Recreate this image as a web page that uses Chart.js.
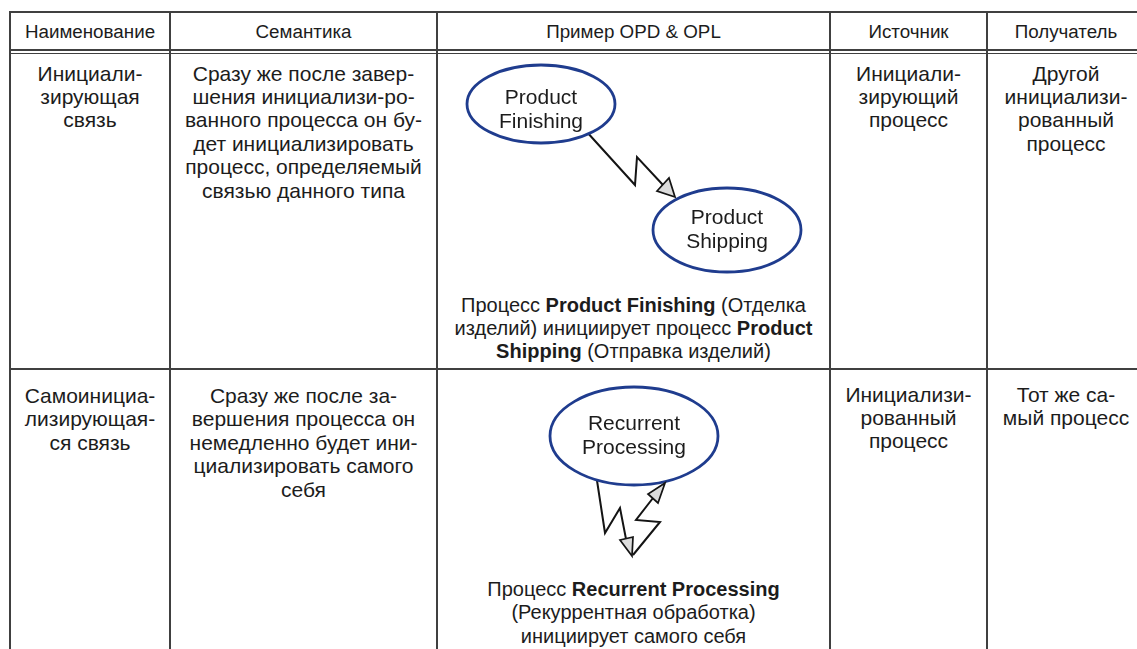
<!DOCTYPE html>
<html>
<head>
<meta charset="utf-8">
<script src="https://cdn.jsdelivr.net/npm/chart.js@4.4.1/dist/chart.umd.min.js"></script>
<style>
  html, body { margin:0; padding:0; background:#fff; }
  body { width:1137px; height:649px; overflow:hidden; position:relative; font-family:"Liberation Sans", Arial, sans-serif; color:#1c1c1c; }
  .hl { position:absolute; left:10px; width:1140px; height:2px; background:#404040; }
  .vl { position:absolute; top:11px; width:2px; height:640px; background:#404040; }
  .t { position:absolute; width:400px; text-align:center; white-space:nowrap; }
  .hd { font-size:18.8px; line-height:24px; }
  .bd { font-size:21px; line-height:23.4px; }
  .opl { font-size:20px; line-height:23.3px; }
  #c { position:absolute; left:0; top:0; pointer-events:none; }
</style>
</head>
<body>
<div class="hl" style="top:11px"></div>
<div class="hl" style="top:49px;height:1.5px"></div>
<div class="hl" style="top:52.5px;height:1.5px"></div>
<div class="hl" style="top:368px"></div>
<div class="vl" style="left:9px"></div>
<div class="vl" style="left:169px"></div>
<div class="vl" style="left:436px"></div>
<div class="vl" style="left:829px"></div>
<div class="vl" style="left:986px"></div>

<div id="cells"></div>
<canvas id="c" width="1137" height="649"></canvas>

<script>
// ---- table text ----
const headers = ['Наименование', 'Семантика', 'Пример OPD & OPL', 'Источник', 'Получатель'];
const row1Name = ['Инициали-', 'зирующая', 'связь'];
const row1Sem = ['Сразу же после завер-', 'шения инициализи-ро-', 'ванного процесса он бу-', 'дет инициализировать', 'процесс, определяемый', 'связью данного типа'];
const row1Src = ['Инициали-', 'зирующий', 'процесс'];
const row1Dst = ['Другой', 'инициализи-', 'рованный', 'процесс'];
const row1Opl = ['Процесс <b>Product Finishing</b> (Отделка', 'изделий) инициирует процесс <b>Product</b>', '<b>Shipping</b> (Отправка изделий)'];
const row2Name = ['Самоинициа-', 'лизирующая-', 'ся связь'];
const row2Sem = ['Сразу же после за-', 'вершения процесса он', 'немедленно будет ини-', 'циализировать самого', 'себя'];
const row2Src = ['Инициализи-', 'рованный', 'процесс'];
const row2Dst = ['Тот же са-', 'мый процесс'];
const row2Opl = ['Процесс <b>Recurrent Processing</b>', '(Рекуррентная обработка)', 'инициирует самого себя'];

// ---- OPD diagram data ----
const procNames = [['Product', 'Finishing'], ['Product', 'Shipping'], ['Recurrent', 'Processing']];
const procX = [541, 727, 634];
const procY = [104, 230, 436];
const procRx = [74, 74, 84];
const procRy = [39, 42, 49];
const labelBase = [104, 224, 430];

const link1X = [586, 635, 637, 663];
const link1Y = [131, 185, 157, 185];
const link2X = [596, 605, 620, 626];
const link2Y = [474, 533, 508, 539];
const link3X = [633, 660, 636, 653];
const link3Y = [555, 522, 520, 498];

const headTipX = [675, 632, 665];
const headTipY = [197, 556, 483];
const headB1X = [657, 620, 648];
const headB1Y = [191, 540, 494];
const headB2X = [669, 633, 658];
const headB2Y = [178, 537, 503];

// ---- build table text ----
const cells = document.getElementById('cells');
function addText(cls, cx, top, lines) {
  const d = document.createElement('div');
  d.className = 't ' + cls;
  d.style.left = (cx - 200) + 'px';
  d.style.top = top + 'px';
  d.innerHTML = lines.join('<br>');
  cells.appendChild(d);
}
const colCenters = [90, 303.5, 633.5, 908.5, 1066];
headers.forEach((h, i) => addText('hd', colCenters[i], 20.3, [h]));
addText('bd', colCenters[0], 61.5, row1Name);
addText('bd', colCenters[1], 61.5, row1Sem);
addText('bd', colCenters[3], 61.5, row1Src);
addText('bd', colCenters[4], 61.5, row1Dst);
addText('opl', colCenters[2], 293.5, row1Opl);
addText('bd', colCenters[0], 384, row2Name);
addText('bd', colCenters[1], 384, row2Sem);
addText('bd', colCenters[3], 382.5, row2Src);
addText('bd', colCenters[4], 382.5, row2Dst);
addText('opl', colCenters[2], 578, row2Opl);

// ---- chart ----
const pts = (xs, ys) => xs.map((v, i) => ({ x: v, y: ys[i] }));
const linkStyle = { showLine: true, pointRadius: 0, borderColor: '#141414', borderWidth: 2, tension: 0, borderJoinStyle: 'miter', fill: false };

const opdPlugin = {
  id: 'opd',
  afterDatasetsDraw(chart) {
    const ctx = chart.ctx, xs = chart.scales.x, ys = chart.scales.y;
    const meta = chart.getDatasetMeta(0);
    meta.data.forEach((el, i) => {
      const px = el.x, py = el.y;
      const rx = Math.abs(xs.getPixelForValue(procX[i] + procRx[i]) - px);
      const ry = Math.abs(ys.getPixelForValue(procY[i] + procRy[i]) - py);
      ctx.save();
      ctx.beginPath();
      ctx.ellipse(px, py, rx, ry, 0, 0, Math.PI * 2);
      ctx.fillStyle = '#fff';
      ctx.fill();
      ctx.lineWidth = 2.8;
      ctx.strokeStyle = '#1f3c8e';
      ctx.stroke();
      ctx.fillStyle = '#1c1c1c';
      ctx.font = '21px "Liberation Sans", Arial, sans-serif';
      ctx.textAlign = 'center';
      ctx.textBaseline = 'alphabetic';
      procNames[i].forEach((s, k) => {
        ctx.fillText(s, px, ys.getPixelForValue(labelBase[i] + k * 23.5));
      });
      ctx.restore();
    });
    headTipX.forEach((tx, i) => {
      ctx.save();
      ctx.beginPath();
      ctx.moveTo(xs.getPixelForValue(tx), ys.getPixelForValue(headTipY[i]));
      ctx.lineTo(xs.getPixelForValue(headB1X[i]), ys.getPixelForValue(headB1Y[i]));
      ctx.lineTo(xs.getPixelForValue(headB2X[i]), ys.getPixelForValue(headB2Y[i]));
      ctx.closePath();
      ctx.fillStyle = '#dcdcdc';
      ctx.fill();
      ctx.lineWidth = 1.7;
      ctx.lineJoin = 'miter';
      ctx.strokeStyle = '#141414';
      ctx.stroke();
      ctx.restore();
    });
  }
};

new Chart(document.getElementById('c'), {
  type: 'scatter',
  data: {
    datasets: [
      { label: 'processes', data: pts(procX, procY), pointRadius: 0, showLine: false },
      Object.assign({ label: 'link1', data: pts(link1X, link1Y) }, linkStyle),
      Object.assign({ label: 'link2', data: pts(link2X, link2Y) }, linkStyle),
      Object.assign({ label: 'link3', data: pts(link3X, link3Y) }, linkStyle)
    ]
  },
  options: {
    responsive: false,
    animation: false,
    devicePixelRatio: 1,
    layout: { padding: 0 },
    plugins: { legend: { display: false }, tooltip: { enabled: false } },
    events: [],
    scales: {
      x: { type: 'linear', min: 0, max: 1137, display: false },
      y: { type: 'linear', min: 0, max: 649, reverse: true, display: false }
    }
  },
  plugins: [opdPlugin]
});
</script>
</body>
</html>
